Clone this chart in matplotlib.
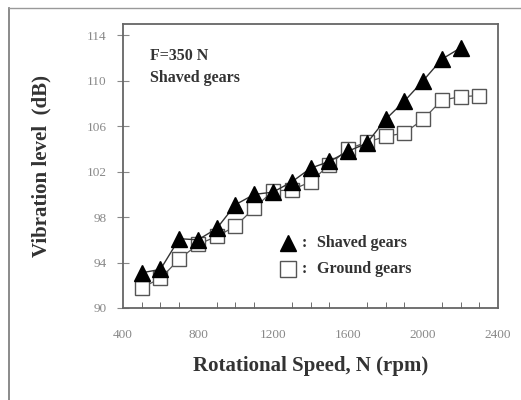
import matplotlib
matplotlib.use("Agg")
import matplotlib.pyplot as plt
from matplotlib.lines import Line2D

# data
speed_shaved = [500, 600, 700, 800, 900, 1000, 1100, 1200, 1300, 1400, 1500,
                1600, 1700, 1800, 1900, 2000, 2100, 2200]
vib_shaved = [93.1, 93.4, 96.1, 96.0, 97.0, 99.1, 100.0, 100.2, 101.1, 102.3,
              102.9, 103.8, 104.5, 106.6, 108.2, 110.0, 111.9, 112.9]

speed_ground = [500, 600, 700, 800, 900, 1000, 1100, 1200, 1300, 1400, 1500,
                1600, 1700, 1800, 1900, 2000, 2100, 2200, 2300]
vib_ground = [91.8, 92.6, 94.3, 95.6, 96.3, 97.2, 98.8, 100.3, 100.4, 101.1,
              102.6, 104.0, 104.6, 105.1, 105.4, 106.6, 108.3, 108.6, 108.7]

x_ticks = [400, 800, 1200, 1600, 2000, 2400]
y_ticks = [90, 94, 98, 102, 106, 110, 114]

plt.rcParams['font.family'] = ['Liberation Serif', 'DejaVu Serif']

fig = plt.figure(figsize=(5.21, 4.0), dpi=100)
ax = fig.add_axes([0.236, 0.23, 0.72, 0.71])

# partial frame around the figure (left and top only)
fig.add_artist(Line2D([0.017, 0.017], [0.0, 0.98], transform=fig.transFigure,
                      color='#777777', lw=1.2))
fig.add_artist(Line2D([0.017, 1.0], [0.98, 0.98], transform=fig.transFigure,
                      color='#999999', lw=1.0))

# ground first so the triangles sit on top
ax.plot(speed_ground, vib_ground, color='#555555', lw=0.9, marker='s',
        markersize=9.5, markerfacecolor='white', markeredgecolor='#555555',
        markeredgewidth=1.0)
ax.plot(speed_shaved, vib_shaved, color='#333333', lw=1.0, marker='^',
        markersize=11, markerfacecolor='black', markeredgecolor='black')

ax.set_xlim(400, 2400)
ax.set_ylim(90, 115)
ax.set_xticks(x_ticks)
ax.set_xticks(range(500, 2400, 100), minor=True)
ax.set_yticks(y_ticks)
ax.tick_params(axis='x', which='major', length=0, labelsize=9.5, colors='#888888', pad=15)
ax.tick_params(axis='x', which='minor', direction='in', length=4, color='#555555')
ax.tick_params(axis='y', direction='inout', length=8, labelsize=9.5,
               colors='#888888', pad=8)
for s in ax.spines.values():
    s.set_color('#666666')
    s.set_linewidth(1.3)

ax.set_xlabel('Rotational Speed, N (rpm)', fontsize=15, fontweight='bold',
              color='#333333', labelpad=11)
ax.set_ylabel('Vibration level  (dB)', fontsize=15, fontweight='bold',
              color='#333333', labelpad=25)

ax.text(0.072, 0.915, 'F=350 N\nShaved gears', transform=ax.transAxes,
        fontsize=11.5, fontweight='bold', color='#333333', va='top',
        linespacing=1.45)

# legend drawn by hand with markers
ax.plot([0.44], [0.229], transform=ax.transAxes, marker='^', markersize=12,
        color='black', clip_on=False)
ax.plot([0.44], [0.137], transform=ax.transAxes, marker='s', markersize=11,
        markerfacecolor='white', markeredgecolor='#555555', clip_on=False)
ax.text(0.477, 0.229, ':', transform=ax.transAxes, fontsize=11.5,
        fontweight='bold', color='#333333', va='center')
ax.text(0.477, 0.137, ':', transform=ax.transAxes, fontsize=11.5,
        fontweight='bold', color='#333333', va='center')
ax.text(0.517, 0.229, 'Shaved gears', transform=ax.transAxes, fontsize=11.5,
        fontweight='bold', color='#333333', va='center')
ax.text(0.517, 0.137, 'Ground gears', transform=ax.transAxes, fontsize=11.5,
        fontweight='bold', color='#333333', va='center')

fig.savefig('out.png', dpi=100)
